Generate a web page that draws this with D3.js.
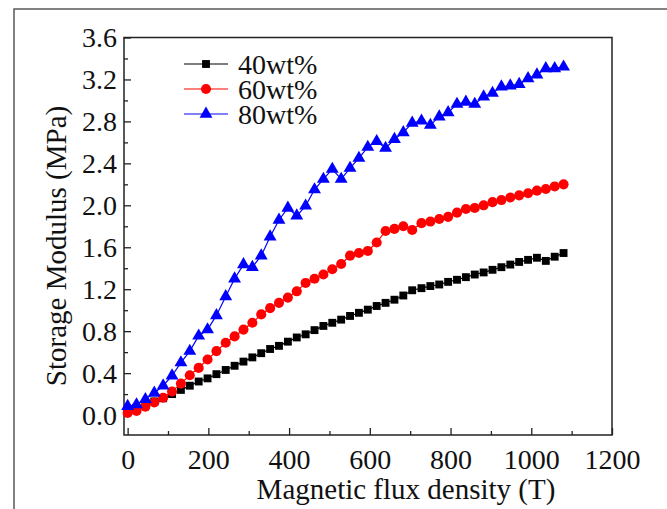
<!DOCTYPE html>
<html>
<head>
<meta charset="utf-8">
<script src="https://cdn.jsdelivr.net/npm/d3@7/dist/d3.min.js"></script>
<style>
  html, body { margin: 0; padding: 0; background: #fff; }
  svg { display: block; }
  text { font-family: "Liberation Serif", "Times New Roman", serif; fill: #111; }
</style>
</head>
<body>
<svg id="chart" width="667" height="509"></svg>
<script>
// Magnetic flux density (T)
const fluxDensity = [0, 22, 44, 66, 88, 110, 132, 154, 176, 198, 220, 243, 265, 287, 309, 331, 353, 375, 397, 419,
  441, 463, 485, 507, 529, 551, 573, 595, 617, 639, 661, 683, 705, 728, 750, 772, 794, 816, 838, 860,
  882, 904, 926, 948, 970, 992, 1014, 1036, 1058, 1080];

// Storage modulus (MPa) per filler loading
const modulus40 = [0.05, 0.07, 0.10, 0.13, 0.16, 0.20, 0.24, 0.28, 0.32, 0.35, 0.39, 0.43, 0.47, 0.51, 0.55, 0.59, 0.63, 0.66, 0.70, 0.74,
  0.77, 0.81, 0.85, 0.88, 0.91, 0.945, 0.975, 1.005, 1.04, 1.07, 1.10, 1.14, 1.19, 1.21, 1.23, 1.245, 1.27, 1.29, 1.315, 1.34,
  1.36, 1.385, 1.41, 1.435, 1.46, 1.48, 1.50, 1.47, 1.51, 1.545];
const modulus60 = [0.02, 0.04, 0.08, 0.12, 0.165, 0.225, 0.30, 0.38, 0.45, 0.53, 0.61, 0.69, 0.75, 0.815, 0.88, 0.96, 1.02, 1.07, 1.12, 1.18,
  1.26, 1.30, 1.34, 1.39, 1.44, 1.52, 1.545, 1.565, 1.645, 1.755, 1.775, 1.80, 1.765, 1.83, 1.845, 1.87, 1.89, 1.93, 1.965, 1.975,
  2.00, 2.03, 2.05, 2.075, 2.095, 2.115, 2.14, 2.155, 2.18, 2.20];
const modulus80 = [0.085, 0.10, 0.15, 0.21, 0.28, 0.375, 0.50, 0.61, 0.755, 0.815, 0.95, 1.13, 1.30, 1.435, 1.41, 1.52, 1.70, 1.86, 1.975, 1.90,
  1.995, 2.15, 2.25, 2.345, 2.25, 2.355, 2.45, 2.555, 2.61, 2.545, 2.63, 2.695, 2.785, 2.805, 2.765, 2.845, 2.885, 2.965, 2.985, 2.965,
  3.035, 3.07, 3.13, 3.14, 3.155, 3.21, 3.245, 3.305, 3.305, 3.32];

const seriesNames = ["40wt%", "60wt%", "80wt%"];
const seriesColors = ["#000000", "#ff0000", "#0000ff"];
const seriesShapes = [d3.symbolSquare, d3.symbolCircle, d3.symbolTriangle];
const seriesValues = [modulus40, modulus60, modulus80];

const xMajorTicks = [0, 200, 400, 600, 800, 1000, 1200];
const xMinorTicks = [100, 300, 500, 700, 900, 1100];
const yMajorTicks = [0.0, 0.4, 0.8, 1.2, 1.6, 2.0, 2.4, 2.8, 3.2, 3.6];
const yMinorTicks = [0.2, 0.6, 1.0, 1.4, 1.8, 2.2, 2.6, 3.0, 3.4];

const svg = d3.select("#chart");
const plot = { left: 124, right: 612, top: 37.5, bottom: 435 };

const x = d3.scaleLinear().domain([-9, 1200]).range([plot.left, plot.right]);
const y = d3.scaleLinear().domain([-0.19, 3.6]).range([plot.bottom, plot.top]);

// outer figure border (only top and left edges fall inside the canvas)
svg.append("path")
  .attr("d", "M14,509 L14,9 L667,9")
  .attr("fill", "none").attr("stroke", "#5a5a5a").attr("stroke-width", 1.5);

// plot frame
svg.append("rect")
  .attr("x", plot.left).attr("y", plot.top)
  .attr("width", plot.right - plot.left).attr("height", plot.bottom - plot.top)
  .attr("fill", "none").attr("stroke", "#222").attr("stroke-width", 1.5);

// x axis: inward major + minor ticks
const xAxis = svg.append("g").attr("transform", `translate(0,${plot.bottom})`)
  .call(d3.axisBottom(x).tickValues(xMajorTicks).tickSizeInner(-7).tickSizeOuter(0).tickPadding(14).tickFormat(d3.format("d")));
svg.append("g").attr("transform", `translate(0,${plot.bottom})`)
  .call(d3.axisBottom(x).tickValues(xMinorTicks).tickSizeInner(-4).tickSizeOuter(0).tickFormat(""));

// y axis
const yAxis = svg.append("g").attr("transform", `translate(${plot.left},0)`)
  .call(d3.axisLeft(y).tickValues(yMajorTicks).tickSizeInner(-7).tickSizeOuter(0).tickPadding(7).tickFormat(d3.format(".1f")));
svg.append("g").attr("transform", `translate(${plot.left},0)`)
  .call(d3.axisLeft(y).tickValues(yMinorTicks).tickSizeInner(-4).tickSizeOuter(0).tickFormat(""));

svg.selectAll(".domain").remove();
svg.selectAll(".tick line").attr("stroke", "#222").attr("stroke-width", 1.3);
svg.selectAll(".tick text").attr("font-size", 28).attr("font-family", "Liberation Serif").attr("fill", "#111");
xAxis.selectAll(".tick text").attr("dy", "0.71em");

// axis titles
svg.append("text")
  .attr("x", 406).attr("y", 499)
  .attr("text-anchor", "middle").attr("font-size", 29)
  .text("Magnetic flux density (T)");
svg.append("text")
  .attr("transform", "translate(66,246) rotate(-90)")
  .attr("text-anchor", "middle").attr("font-size", 29)
  .text("Storage Modulus (MPa)");

// data series
const markerSize = [62, 80, 72];

seriesValues.forEach((vals, s) => {
  const pts = vals.map((v, i) => [fluxDensity[i], v]);
  const g = svg.append("g");
  g.append("path")
    .datum(pts)
    .attr("fill", "none").attr("stroke", seriesColors[s]).attr("stroke-width", 1.2)
    .attr("d", d3.line().x(d => x(d[0])).y(d => y(d[1])));
  g.selectAll("path.marker").data(pts).join("path")
    .attr("class", "marker")
    .attr("transform", d => `translate(${x(d[0])},${y(d[1])})`)
    .attr("d", d3.symbol().type(seriesShapes[s]).size(markerSize[s]))
    .attr("fill", seriesColors[s]);
});

// legend
const legend = svg.append("g");
const legendRows = [64, 89, 114];
seriesNames.forEach((name, s) => {
  const ly = legendRows[s];
  legend.append("line").attr("x1", 184).attr("x2", 228).attr("y1", ly).attr("y2", ly)
    .attr("stroke", seriesColors[s]).attr("stroke-width", 1.2);
  legend.append("path")
    .attr("transform", `translate(206,${ly})`)
    .attr("d", d3.symbol().type(seriesShapes[s]).size(markerSize[s]))
    .attr("fill", seriesColors[s]);
  legend.append("text").attr("x", 238).attr("y", ly).attr("dy", "0.35em")
    .attr("font-size", 28).text(name);
});
</script>
</body>
</html>
